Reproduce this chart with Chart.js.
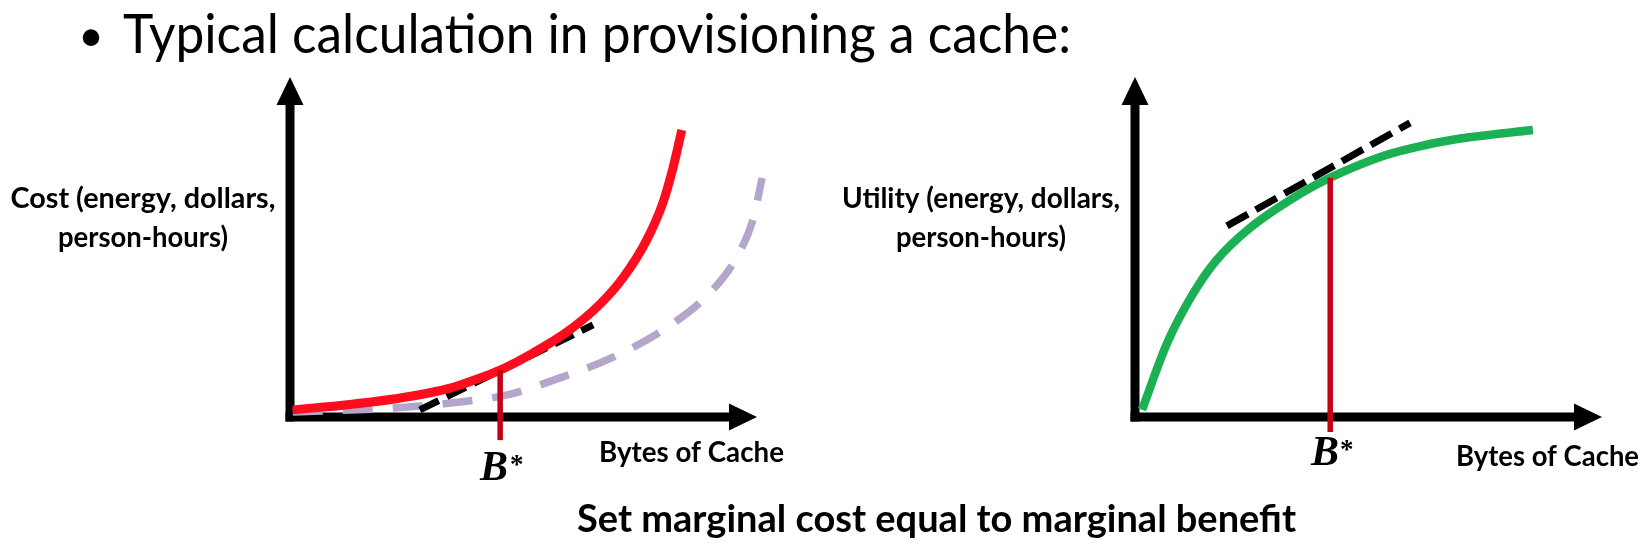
<!DOCTYPE html>
<html><head><meta charset="utf-8">
<script src="https://cdn.jsdelivr.net/npm/chart.js@4.4.1/dist/chart.umd.min.js"></script>
<style>html,body{margin:0;padding:0;background:#fff;overflow:hidden}canvas{display:block}</style>
</head><body>
<canvas id="c" width="1644" height="550"></canvas>
<script>
// ---------- DATA (units: x 0..100 = origin..arrow tip, y 0..100 = x-axis..arrow tip) ----------
// Left panel: cost of cache
const costX        = [0.6, 12.8, 23.6, 34.3, 40.7, 45.0, 52.0, 59.3, 66.4, 71.3, 76.4, 79.9, 82.0, 83.9];
const costY        = [2.1, 3.7, 5.6, 8.5, 11.5, 13.8, 18.8, 25.0, 33.2, 40.9, 52.1, 63.2, 73.2, 84.4];
const altCostX     = [0.6, 21.8, 34.3, 46.5, 57.8, 69.2, 79.9, 89.9, 95.7, 99.1, 101.1];
const altCostY     = [1.5, 2.6, 4.1, 6.5, 11.5, 17.6, 25.6, 36.5, 47.1, 57.9, 70.3];
const costTangentX = [27.8, 64.9];
const costTangentY = [2.1, 27.1];
const costOptX     = [45.0, 45.0];
const costOptY     = [-6.8, 13.8];
// Right panel: utility of cache
const utilX        = [1.5, 6.9, 12.4, 17.3, 24.6, 35.3, 41.8, 52.5, 59.3, 69.6, 85.2];
const utilY        = [2.1, 21.8, 36.2, 45.9, 55.6, 65.6, 70.4, 76.5, 79.1, 81.9, 84.4];
const utilTangentX = [19.7, 58.9];
const utilTangentY = [56.2, 86.5];
const utilOptX     = [41.8, 41.8];
const utilOptY     = [-4.4, 70.4];
// Text
const titleText    = "Typical calculation in provisioning a cache:";
const costLabel    = ["Cost (energy, dollars,", "person-hours)"];
const utilLabel    = ["Utility (energy, dollars,", "person-hours)"];
const xLabel       = "Bytes of Cache";
const optLabel     = "B";
const optSup       = "*";
const footerText   = "Set marginal cost equal to marginal benefit";

// ---------- LAYOUT ----------
const W = 1644, H = 550;
const FRAME = { L: {x0: 290, x1: 757, y0: 417, y1: 77}, R: {x0: 1135, x1: 1602, y0: 417, y1: 77} };
function xRange(f){ const k = 100/(f.x1-f.x0); return {min: -f.x0*k, max: (W-f.x0)*k}; }
function yRange(f){ const k = 100/(f.y0-f.y1); return {min: -(H-f.y0)*k, max: f.y0*k}; }
const zip = (xs, ys) => xs.map((x,i)=>({x, y: ys[i]}));

const RED = '#FF0D1F', LAV = '#B4A5CB', GREEN = '#1CB055', DARKRED = '#C20016';

function ds(xs, ys, side, color, width, opts){
  return Object.assign({
    data: zip(xs, ys), xAxisID: 'x'+side, yAxisID: 'y'+side,
    borderColor: color, borderWidth: width, pointRadius: 0, fill: false,
    borderCapStyle: 'butt', borderJoinStyle: 'round', tension: 0
  }, opts||{});
}

const axesPlugin = {
  id: 'arrowAxes',
  beforeDatasetsDraw(chart){
    const ctx = chart.ctx;
    ['L','R'].forEach(s=>{
      const xs = chart.scales['x'+s], ys = chart.scales['y'+s];
      const ox = xs.getPixelForValue(0), oy = ys.getPixelForValue(0);
      const tx = xs.getPixelForValue(100), ty = ys.getPixelForValue(100);
      const lw = 9, hl = 28, hw = 13.5;
      ctx.save();
      ctx.fillStyle = '#000';
      ctx.fillRect(ox - lw/2, ty + hl - 1, lw, oy + lw/2 - (ty + hl - 1));
      ctx.fillRect(ox - lw/2, oy - lw/2, tx - hl + 1 - (ox - lw/2), lw);
      ctx.beginPath();
      ctx.moveTo(ox, ty); ctx.lineTo(ox - hw, ty + hl); ctx.lineTo(ox + hw, ty + hl); ctx.closePath(); ctx.fill();
      ctx.beginPath();
      ctx.moveTo(tx, oy); ctx.lineTo(tx - hl, oy - hw); ctx.lineTo(tx - hl, oy + hw); ctx.closePath(); ctx.fill();
      ctx.restore();
    });
  }
};

const textPlugin = {
  id: 'slideText',
  afterDraw(chart){
    const ctx = chart.ctx;
    ctx.save();
    ctx.fillStyle = '#000';
    ctx.textBaseline = 'alphabetic';
    // title
    ctx.font = '44px Lato';
    ctx.textAlign = 'center';
    ctx.fillText('\u2022', 91, 51);
    ctx.font = '54px Lato';
    ctx.textAlign = 'left';
    ctx.fillText(titleText, 123, 53, 948);
    // y labels
    ctx.font = 'bold 29px Lato';
    ctx.textAlign = 'center';
    ctx.fillText(costLabel[0], 143, 208, 265);
    ctx.fillText(costLabel[1], 143, 247, 170);
    ctx.fillText(utilLabel[0], 981, 208, 278);
    ctx.fillText(utilLabel[1], 981, 247, 170);
    // x labels
    ctx.font = 'bold 28px Lato';
    ctx.textAlign = 'left';
    ctx.fillText(xLabel, 599, 462, 185);
    ctx.fillText(xLabel, 1456, 466, 183);
    // B* labels
    ctx.font = 'italic bold 42px "Liberation Serif"';
    ctx.fillText(optLabel, 480, 480);
    ctx.fillText(optLabel, 1311, 465);
    ctx.font = 'bold 27px "Liberation Serif"';
    ctx.fillText(optSup, 510, 473);
    ctx.fillText(optSup, 1340, 458);
    // footer
    ctx.font = 'bold 38px Lato';
    ctx.fillText(footerText, 577, 532, 721);
    ctx.restore();
  }
};

const rx = (f)=>xRange(f), ry = (f)=>yRange(f);
new Chart(document.getElementById('c'), {
  type: 'line',
  data: {
    datasets: [
      ds(costOptX, costOptY, 'L', DARKRED, 5.5),
      ds(utilOptX, utilOptY, 'R', DARKRED, 5.5),
      ds(costX, costY, 'L', RED, 9, {cubicInterpolationMode: 'monotone'}),
      ds(utilX, utilY, 'R', GREEN, 8.5, {cubicInterpolationMode: 'monotone'}),
      ds(costTangentX, costTangentY, 'L', '#000', 7, {borderDash: [21, 9]}),
      ds(utilTangentX, utilTangentY, 'R', '#000', 7, {borderDash: [24, 9]}),
      ds(altCostX, altCostY, 'L', LAV, 7.5, {borderDash: [30, 20], cubicInterpolationMode: 'monotone'})
    ]
  },
  options: {
    responsive: false, animation: false, events: [],
    layout: {padding: 0},
    plugins: {legend: {display: false}, tooltip: {enabled: false}, title: {display: false}},
    scales: {
      xL: {type: 'linear', axis: 'x', display: false, min: rx(FRAME.L).min, max: rx(FRAME.L).max},
      yL: {type: 'linear', axis: 'y', display: false, min: ry(FRAME.L).min, max: ry(FRAME.L).max},
      xR: {type: 'linear', axis: 'x', display: false, min: rx(FRAME.R).min, max: rx(FRAME.R).max},
      yR: {type: 'linear', axis: 'y', display: false, min: ry(FRAME.R).min, max: ry(FRAME.R).max}
    }
  },
  plugins: [axesPlugin, textPlugin]
});
</script>
</body></html>
